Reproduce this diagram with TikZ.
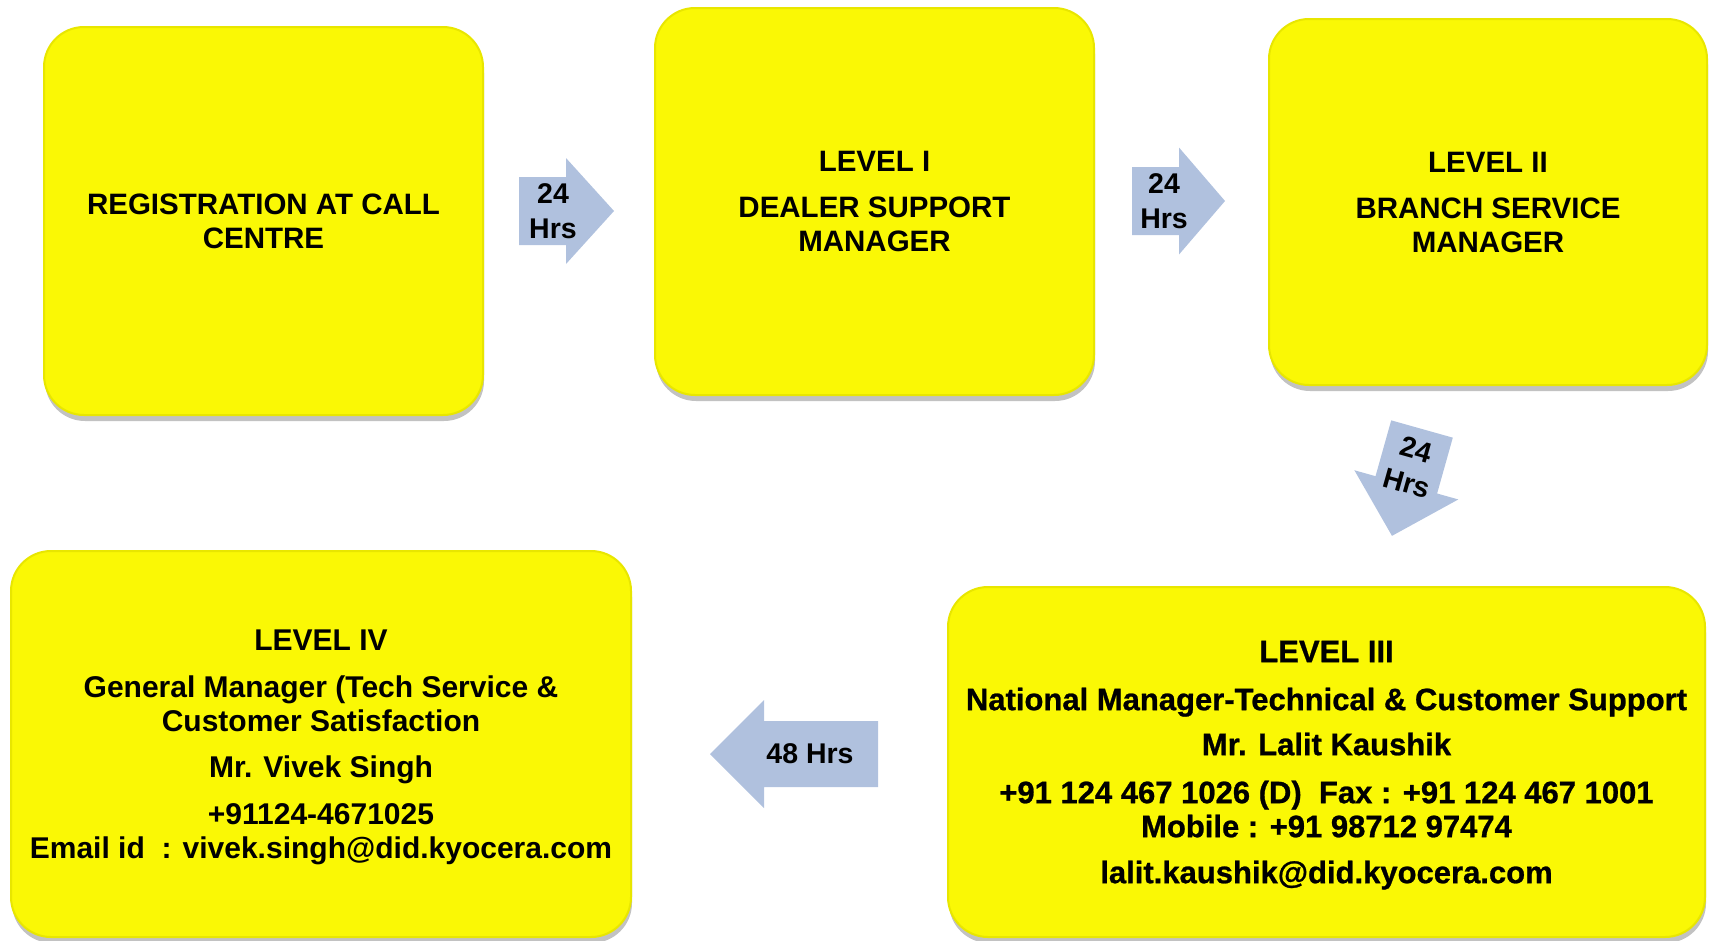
\documentclass[tikz,border=0pt]{standalone}
\usepackage{fontspec}
\setmainfont{Liberation Sans}
\newfontfamily\heavyfont{Liberation Sans Bold}[FakeBold=0.8]
\usetikzlibrary{shadows}

\definecolor{boxyellow}{RGB}{250,248,5}
\definecolor{boxedge}{RGB}{232,230,0}
\definecolor{arrowblue}{RGB}{176,193,222}

\newcommand{\BlockArrow}[4]{\fill[arrowblue] (0,-#3/2) -- (#1-#2,-#3/2) -- (#1-#2,-#4/2) -- (#1,0) -- (#1-#2,#4/2) -- (#1-#2,#3/2) -- (0,#3/2) -- cycle;}

\begin{document}
\begin{tikzpicture}[x=1pt, y=-1pt,
    box/.style={rounded corners=40pt, fill=boxyellow, draw=boxedge, line width=2pt,
        drop shadow={shadow xshift=1pt, shadow yshift=-6pt, fill=black!60, opacity=0.4},
        inner sep=0pt, align=center, text depth=0pt,
        font=\fontsize{29.5}{34}\selectfont\bfseries},
    hrs/.style={inner sep=0pt, align=center, font=\fontsize{28.5}{35}\selectfont\bfseries}]

    \useasboundingbox (0,0) rectangle (1712,940);

    \draw(263.5,221) node[box, minimum width=439pt, minimum height=388pt] (reg)
    {REGISTRATION AT CALL\\CENTRE};
    \draw(874.5,201.5) node[box, minimum width=439pt, minimum height=387pt] (lvone)
    {LEVEL I\\[12pt]DEALER SUPPORT\\MANAGER};
    \draw(1488,202) node[box, minimum width=438pt, minimum height=366pt] (lvtwo)
    {LEVEL II\\[12pt]BRANCH SERVICE\\MANAGER};
    \draw(1326.5,762) node[box, minimum width=757pt, minimum height=350pt,
        font=\fontsize{31}{34}\heavyfont] (lvthree)
    {LEVEL III\\[14pt]
    National Manager-Technical \& Customer Support\\[11pt]
    Mr. Lalit Kaushik\\[14pt]
    +91 124 467 1026 (D)~~Fax : +91 124 467 1001\\
    Mobile : +91 98712 97474\\[12pt]
    lalit.kaushik@did.kyocera.com};
    \draw(321,744) node[box, minimum width=620pt, minimum height=386pt,
        font=\fontsize{30}{34}\selectfont\bfseries] (lvfour)
    {LEVEL IV\\[13pt]
    General Manager (Tech Service \&\\
    Customer Satisfaction\\[12pt]
    Mr. Vivek Singh\\[13pt]
    +91124-4671025\\
    Email id~~: vivek.singh@did.kyocera.com};

    \begin{scope}[shift={(519,211)}]
        \BlockArrow{95}{48}{68}{106}
        \draw(34,0) node[hrs] (hrsone) {24\\Hrs};
    \end{scope}
    \begin{scope}[shift={(1132,201)}]
        \BlockArrow{93}{46}{68}{107}
        \draw(32,0) node[hrs] (hrstwo) {24\\Hrs};
    \end{scope}
    \begin{scope}[shift={(1422,429)}, rotate=-105.7]
        \BlockArrow{111}{53}{64}{108}
        \draw(39,0) node[hrs, rotate=-15.7] (hrsthree) {24\\Hrs};
    \end{scope}
    \begin{scope}[shift={(878,754)}, rotate=180]
        \BlockArrow{168}{54}{66}{108}
        \draw(68,0) node[hrs] (hrsfour) {48 Hrs};
    \end{scope}

\end{tikzpicture}
\end{document}
